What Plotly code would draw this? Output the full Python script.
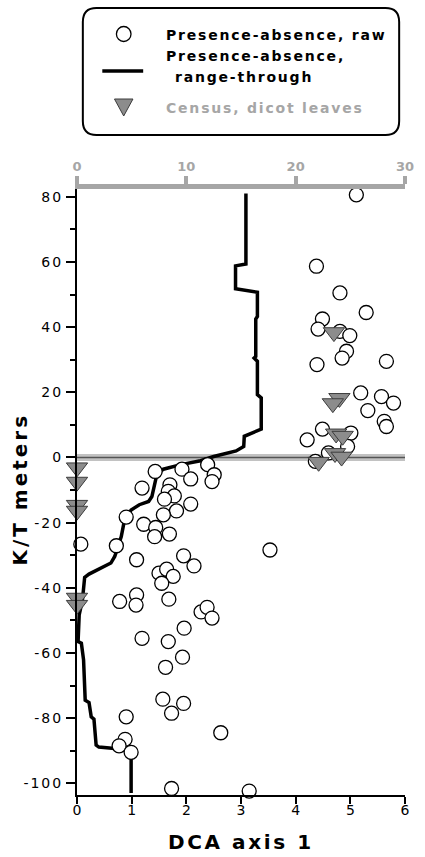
import plotly.graph_objects as go

# ---------------- data ----------------
# Presence-absence, raw (DCA axis 1 score, K/T meters)
raw_dca = [5.11, 4.38, 4.81, 5.29, 4.49, 4.41, 4.81, 4.99, 4.93, 4.85, 4.39, 5.66,
           5.19, 5.57, 5.79, 5.32, 5.62, 5.66, 6.08, 4.49, 4.21, 5.01, 4.95, 4.60, 4.36,
           1.43, 1.92, 2.08, 2.39, 2.51, 2.47, 1.19, 1.70, 1.67, 1.78, 1.60, 2.08, 1.82,
           1.58, 0.90, 1.22, 1.44, 1.69, 1.42, 0.07, 0.72, 1.09, 1.95, 2.14, 1.50, 1.64,
           1.76, 1.55, 1.09, 0.78, 1.08, 1.68, 2.27, 2.38, 2.47, 1.96, 1.19, 1.67, 1.93,
           1.62, 1.57, 1.95, 1.73, 0.90, 2.63, 0.88, 0.77, 0.99, 1.73, 3.15, 3.53]
raw_m = [80.6, 58.7, 50.5, 44.5, 42.5, 39.4, 38.7, 37.4, 32.6, 30.5, 28.5, 29.5,
         19.8, 18.7, 16.7, 14.4, 11.1, 9.5, 11.6, 8.7, 5.4, 7.5, 3.4, 1.4, -1.2,
         -4.3, -3.6, -6.6, -2.2, -5.3, -7.4, -9.4, -8.4, -10.4, -11.8, -12.8, -14.3, -16.4,
         -17.6, -18.3, -20.5, -21.5, -23.5, -24.3, -26.6, -27.1, -31.4, -30.2, -33.3, -35.5, -34.3,
         -36.5, -38.6, -42.2, -44.2, -45.3, -43.5, -47.4, -46.0, -49.3, -52.4, -55.5, -56.5, -61.3,
         -64.4, -74.2, -75.5, -78.5, -79.6, -84.5, -86.5, -88.5, -90.5, -101.6, -102.4, -28.4]

# Presence-absence, range-through (DCA axis 1, K/T meters)
range_dca = [3.09, 3.09, 2.90, 2.90, 3.30, 3.30, 3.27, 3.27, 3.24, 3.30, 3.30, 3.37, 3.37,
             3.08, 3.06, 3.05, 2.91, 2.50, 2.26, 1.90, 1.58, 1.46, 1.43, 1.37, 1.31, 1.14,
             0.99, 0.87, 0.81, 0.75, 0.69, 0.62, 0.40, 0.22, 0.14, 0.12, 0.10, 0.04, 0.02,
             0.08, 0.12, 0.15, 0.22, 0.26, 0.31, 0.35, 0.40, 0.69, 0.99, 0.99]
range_m = [81.0, 59.4, 58.8, 51.8, 50.7, 43.3, 42.5, 31.0, 30.5, 29.5, 19.3, 18.3, 8.7,
           6.7, 6.5, 3.4, 2.0, 0.3, -1.0, -2.2, -3.6, -5.3, -7.9, -12.0, -13.5, -14.5,
           -16.1, -19.1, -24.3, -27.3, -30.4, -32.4, -34.3, -35.8, -36.8, -40.0, -43.7, -48.3, -56.5,
           -57.0, -62.1, -74.5, -75.2, -79.6, -80.3, -88.3, -88.9, -89.3, -90.3, -103.0]

# Census, dicot leaves (top axis 0-30, K/T meters)
census_x = [23.5, 24.0, 23.4, 23.7, 24.3, 23.6, 24.2, 22.1, 0, 0, 0, 0, 0, 0]
census_m = [38.4, 18.2, 16.6, 7.3, 6.6, 1.3, 0.2, -1.4, -3.1, -7.5, -14.6, -16.4, -43.1, -45.3]

y_tickvals = [-100, -80, -60, -40, -20, 0, 20, 40, 60, 80]
y_ticktext = ["-100", "-80", "-60", "-40", "-20", "0", "20", "40", "60", "80"]
y_minorvals = [-90, -70, -50, -30, -10, 10, 30, 50, 70]
x_tickvals = [0, 1, 2, 3, 4, 5, 6]
x2_tickvals = [0, 10, 20, 30]
kt_boundary = 0

legend_labels = ["Presence-absence, raw", "Presence-absence,", "range-through", "Census, dicot leaves"]

# ---------------- style ----------------
GREY = "#a6a6a6"
TRI_FILL = "#8c8c8c"
TRI_EDGE = "#3c3c3c"
FONT = "DejaVu Sans"

L, R, T, B = 77, 414, 189, 795
W, H = 425, 857


def px(x):
    return (x - L) / (R - L)


def py(y):
    return (B - y) / (B - T)


def sp(text, ls):
    return "<span style='letter-spacing:%spx'>%s</span>" % (ls, text)


fig = go.Figure()

fig.add_trace(go.Scatter(x=range_dca, y=range_m, mode="lines",
                         line=dict(color="black", width=3.5),
                         showlegend=False, cliponaxis=False))
fig.add_trace(go.Scatter(x=raw_dca, y=raw_m, mode="markers",
                         marker=dict(symbol="circle", size=14, color="white",
                                     line=dict(color="black", width=1.3)),
                         showlegend=False, cliponaxis=False))
fig.add_trace(go.Scatter(x=census_x, y=census_m, mode="markers", xaxis="x2", yaxis="y",
                         marker=dict(symbol="triangle-down", size=18.5, color=TRI_FILL,
                                     line=dict(color=TRI_EDGE, width=1)),
                         showlegend=False, cliponaxis=False))

shapes = []
# K/T boundary
shapes.append(dict(type="line", xref="x", yref="y", x0=0, x1=6, y0=kt_boundary, y1=kt_boundary,
                   line=dict(color="#c2c2c2", width=7), layer="below"))
shapes.append(dict(type="line", xref="x", yref="y", x0=0, x1=6, y0=kt_boundary, y1=kt_boundary,
                   line=dict(color="#555555", width=1.5), layer="below"))

# legend box (rounded)
x0, x1, y0, y1 = px(83), px(408), py(135), py(8)
rx, ry = 14 / (R - L), 14 / (B - T)
path = ("M{a},{t} L{b},{t} Q{x1},{t2} {x1},{c} L{x1},{d} Q{x1},{y0} {b},{y0} "
        "L{a},{y0} Q{x0},{y0} {x0},{d} L{x0},{c} Q{x0},{t2} {a},{t} Z").format(
    a=x0 + rx, b=x1 - rx, t=y1, t2=y1, c=y1 - ry, d=y0 + ry, x0=x0, x1=x1, y0=y0)
shapes.append(dict(type="path", xref="paper", yref="paper", path=path,
                   line=dict(color="black", width=2), fillcolor="white", layer="above"))
# legend symbols
shapes.append(dict(type="circle", xref="paper", yref="paper",
                   x0=px(117.5), x1=px(132.5), y0=py(41.5), y1=py(26.5),
                   line=dict(color="black", width=1.3), fillcolor="white"))
shapes.append(dict(type="line", xref="paper", yref="paper",
                   x0=px(103), x1=px(145), y0=py(71), y1=py(71),
                   line=dict(color="black", width=3.5)))
tri = "M{},{} L{},{} L{},{} Z".format(px(115.5), py(99), px(134.5), py(99), px(125), py(116))
shapes.append(dict(type="path", xref="paper", yref="paper", path=tri,
                   line=dict(color=TRI_EDGE, width=1), fillcolor=TRI_FILL))

annotations = []
lfont = dict(family=FONT, size=14, color="black", weight="bold")
annotations.append(dict(xref="paper", yref="paper", x=px(166), y=py(35), xanchor="left",
                        yanchor="middle", showarrow=False, text=sp(legend_labels[0], 1.8), font=lfont))
annotations.append(dict(xref="paper", yref="paper", x=px(166), y=py(56), xanchor="left",
                        yanchor="middle", showarrow=False, text=sp(legend_labels[1], 1.8), font=lfont))
annotations.append(dict(xref="paper", yref="paper", x=px(176), y=py(77), xanchor="left",
                        yanchor="middle", showarrow=False, text=sp(legend_labels[2], 1.8), font=lfont))
annotations.append(dict(xref="paper", yref="paper", x=px(166), y=py(108), xanchor="left",
                        yanchor="middle", showarrow=False, text=sp(legend_labels[3], 1.8),
                        font=dict(family=FONT, size=14, color=GREY, weight="bold")))
# axis titles
annotations.append(dict(xref="paper", yref="paper", x=px(18), y=py(489), xanchor="center",
                        yanchor="middle", showarrow=False, textangle=-90,
                        text=sp("K/T meters", 3),
                        font=dict(family=FONT, size=20, color="black", weight="bold")))
annotations.append(dict(xref="paper", yref="paper", x=px(245), y=py(842), xanchor="center",
                        yanchor="middle", showarrow=False,
                        text=sp("DCA axis 1", 2.6),
                        font=dict(family=FONT, size=20, color="black", weight="bold")))

fig.update_layout(
    width=W, height=H, autosize=False,
    margin=dict(l=L, r=W - R, t=T, b=H - B, pad=0),
    paper_bgcolor="white", plot_bgcolor="white",
    shapes=shapes, annotations=annotations,
    xaxis=dict(range=[0, 6], tickmode="array", tickvals=x_tickvals,
               ticks="outside", ticklen=7, tickwidth=2, tickcolor="black",
               showline=True, linewidth=2, linecolor="black",
               showgrid=False, zeroline=False, ticklabelstandoff=-6,
               tickfont=dict(family=FONT, size=14, color="black")),
    xaxis2=dict(range=[0, 30], overlaying="x", side="top", anchor="y",
                tickmode="array", tickvals=x2_tickvals,
                ticks="outside", ticklen=8, tickwidth=4, tickcolor=GREY,
                showline=True, linewidth=5, linecolor=GREY,
                showgrid=False, zeroline=False,
                tickfont=dict(family=FONT, size=13, color=GREY, weight="bold")),
    yaxis=dict(range=[-103.6, 82.4], tickmode="array", tickvals=y_tickvals,
               ticktext=[sp(t, 2) for t in y_ticktext],
               ticks="outside", ticklen=9, tickwidth=2, tickcolor="black",
               showline=True, linewidth=2, linecolor="black",
               showgrid=False, zeroline=False,
               minor=dict(tickmode="array", tickvals=y_minorvals, ticks="outside",
                          ticklen=5, tickwidth=2, tickcolor="black"),
               tickfont=dict(family=FONT, size=14, color="black")),
)

fig.write_html("out.html", config={"displayModeBar": False},
               post_script="document.body.style.margin='0';")
